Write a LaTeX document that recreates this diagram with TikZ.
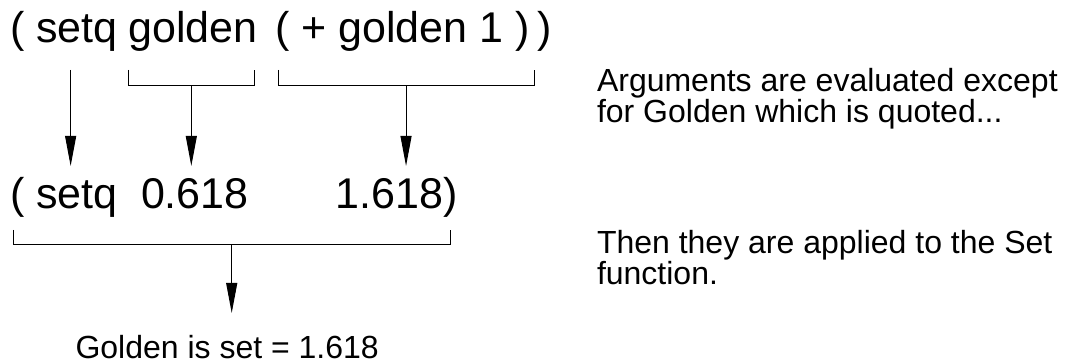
\documentclass[tikz,border=0pt]{standalone}
\usepackage{fontspec}
\setmainfont{Liberation Sans}
\usetikzlibrary{
    arrows.meta,
    calc,
    positioning,
}
\tikzset{
    codenode/.style={
            inner sep=0,
            outer sep=0,
            anchor=base west,
            font=\fontsize{43}{50}\selectfont,
        }
}
\tikzset{
    notenode/.style={
            inner sep=0,
            outer sep=0,
            anchor=base west,
            align=left,
            font=\fontsize{32}{31}\selectfont,
        }
}
\tikzset{
    bracketline/.style={
            line width=1pt,
        },
    arrowline/.style={
            line width=1pt,
            -{Triangle[length=30pt,width=11pt]},
        }
}

\begin{document}
\begin{tikzpicture}[x=1pt,y=-1pt]
    \useasboundingbox (0,0) rectangle (1068,363);

    % expression as typed
    \node[codenode] (O1) at (10,43) {(};
    \node[codenode] (S1) at (36,43) {setq};
    \node[codenode] (G1) at (128.5,43) {golden};
    \node[codenode] (P1) at (275,43) {( + golden 1 )};
    \node[codenode] (C1) at (537,43) {)};

    % expression after evaluation
    \node[codenode] (O2) at (10,209) {(};
    \node[codenode] (S2) at (36,209) {setq};
    \node[codenode] (V1) at (141,209) {0.618};
    \node[codenode] (V2) at (335.5,209) {1.618)};

    % result
    \node[
        notenode,
    ] (R) at (75.5,358) {Golden is set = 1.618};

    % notes (base is the last line)
    \node[
        notenode,
    ] (N1) at (597,123) {Arguments are evaluated except\\for Golden which is quoted...};
    \node[
        notenode,
    ] (N2) at (597,284) {Then they are applied to the Set\\function.};

    % levels
    \coordinate (BT) at (0,70);
    \coordinate (BB) at (0,86);
    \coordinate (AT) at (0,166);
    \coordinate (CT) at (0,230);
    \coordinate (CB) at (0,245);
    \coordinate (RT) at (0,313);

    % brackets
    \draw[bracketline] (G1.west |- BT) |- ([xshift=-3.5pt]G1.east |- BB) -- ([xshift=-3.5pt]G1.east |- BT);
    \draw[bracketline] ([xshift=3pt]P1.west |- BT) |- ([xshift=4.5pt]P1.east |- BB) -- ([xshift=4.5pt]P1.east |- BT);
    \draw[bracketline] ([xshift=3pt]O2.west |- CT) |- ([xshift=-7pt]V2.east |- CB) -- ([xshift=-7pt]V2.east |- CT);

    \coordinate (M1) at ($(G1.west |- BB)!0.5!([xshift=-3.5pt]G1.east |- BB)$);
    \coordinate (M2) at ($([xshift=3pt]P1.west |- BB)!0.5!([xshift=4.5pt]P1.east |- BB)$);
    \coordinate (M3) at ($([xshift=3pt]O2.west |- CB)!0.5!([xshift=-7pt]V2.east |- CB)$);

    % setq -> setq
    \draw[arrowline] ([xshift=-6pt]S1.center |- BT) -- ([xshift=-6pt]S2.center |- AT);

    % golden -> 0.618
    \draw[arrowline] (M1) -- (M1 |- AT);

    % sum -> 1.618
    \draw[arrowline] (M2) -- (M2 |- AT);

    % setq form -> result
    \draw[arrowline] (M3) -- (M3 |- RT);
\end{tikzpicture}
\end{document}
